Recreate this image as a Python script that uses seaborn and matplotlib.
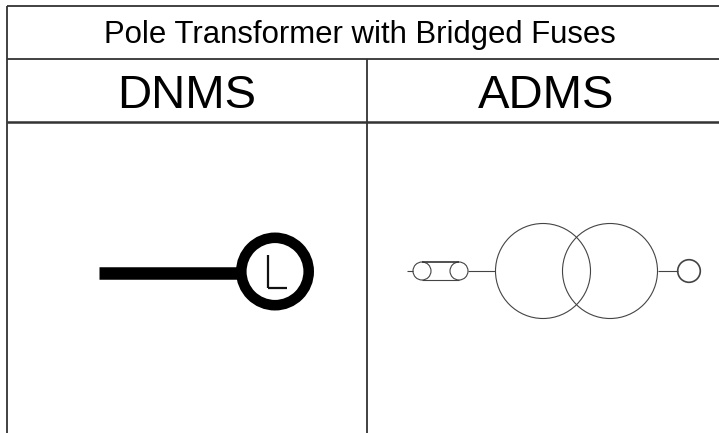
#!/usr/bin/env python
# -*- coding:utf-8 -*-
from matplotlib import pyplot as plt
from matplotlib.patches import Circle
import seaborn as sns

title = "Pole Transformer with Bridged Fuses"
columns = ["DNMS", "ADMS"]

# table rules, in pixels: (x0, x1, y0, y1)
grid_lines = [
    (7, 719, 6, 6),
    (7, 719, 59, 59),
    (7, 719, 122, 122),
    (7, 7, 6, 433),
    (367, 367, 59, 433),
]
grid_widths = [1.3, 1.3, 1.8, 1.3, 1.3]

# symbols: (x0, x1, y0, y1, width, colour)
dnms_lines = [
    (99, 240, 272.5, 272.5, 9.0, "black"),
    (268, 268, 255, 288, 1.6, "#111111"),
    (268, 287, 287.5, 287.5, 1.6, "#111111"),
]
adms_lines = [
    (407, 413, 271, 271, 0.8, "#444444"),
    (422, 459, 262, 262, 1.2, "#333333"),
    (422, 459, 280, 280, 0.8, "#444444"),
    (468, 495, 271, 271, 0.8, "#444444"),
    (658, 678, 271, 271, 0.8, "#444444"),
]
# circles: (x, y, radius, width)
dnms_circles = [(275, 271.5, 33.7, 7.6)]
adms_circles = [
    (422, 271, 9, 0.8),
    (459, 271, 9, 0.8),
    (543, 271, 47.5, 0.8),
    (610, 271, 47.5, 0.8),
    (689, 271, 11.3, 1.2),
]

sns.set_theme(style="white")
plt.rcParams['font.family'] = ['Liberation Sans', 'DejaVu Sans']

fig = plt.figure(figsize=(7.19, 4.33), dpi=100)
ax = fig.add_axes([0, 0, 1, 1])


def draw_line(x0, x1, y0, y1, width, colour):
    sns.lineplot(x=[x0, x1], y=[y0, y1], ax=ax, color=colour, linewidth=width,
                 sort=False, estimator=None, solid_capstyle='butt')


for (x0, x1, y0, y1), w in zip(grid_lines, grid_widths):
    draw_line(x0, x1, y0, y1, w, "#333333")

for line in dnms_lines + adms_lines:
    draw_line(*line)

for x, y, r, w in dnms_circles:
    ax.add_patch(Circle((x, y), r, fill=False, edgecolor="black", linewidth=w))
for x, y, r, w in adms_circles:
    ax.add_patch(Circle((x, y), r, fill=False, edgecolor="#444444", linewidth=w))

ax.text(360, 43, title, ha='center', va='baseline', fontsize=22.4, color="black")
ax.text(187, 108, columns[0], ha='center', va='baseline', fontsize=34, color="black")
ax.text(546, 108, columns[1], ha='center', va='baseline', fontsize=34, color="black")

ax.set_xlim(0, 719)
ax.set_ylim(433, 0)
ax.axis('off')

plt.savefig("out.png", dpi=100)
